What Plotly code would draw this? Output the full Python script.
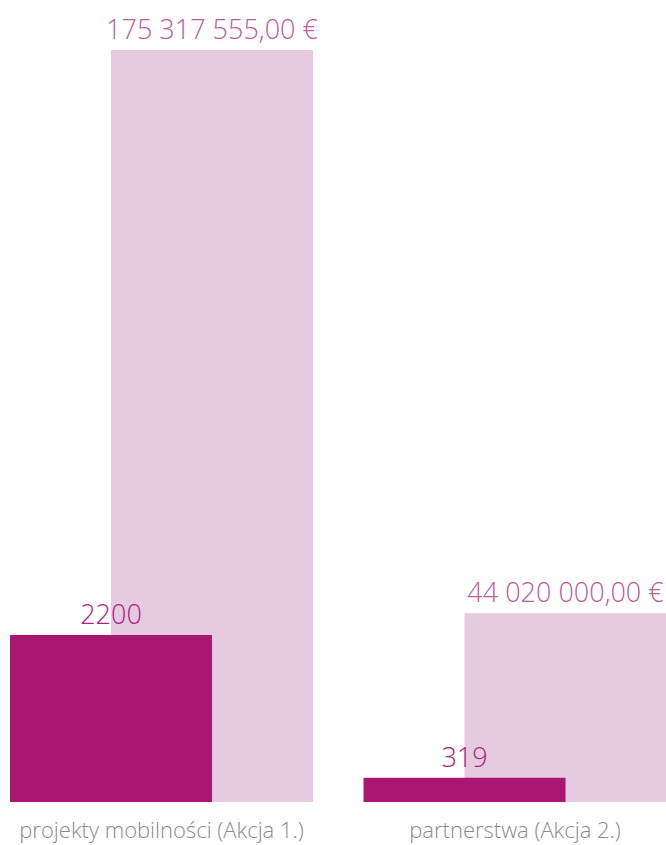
import plotly.graph_objects as go

categories = ["projekty mobilności (Akcja 1.)", "partnerstwa (Akcja 2.)"]
counts = [2200, 319]
amounts = [175317555.00, 44020000.00]

def fmt_eur(v):
    return f"{v:,.2f}".replace(",", " ").replace(".", ",") + " €"

amount_text = [fmt_eur(v) for v in amounts]
count_text = [str(v) for v in counts]

FONT = "Open Sans"

fig = go.Figure()
fig.add_trace(go.Bar(
    x=categories, y=amounts, yaxis="y",
    marker=dict(color="#e6cadf", line=dict(width=0)),
    width=0.5714, offset=-0.1429,
    text=amount_text, textposition="outside", cliponaxis=False,
    constraintext="none",
    textfont=dict(family=FONT, size=27, color="#c05a9b", weight=300),
    hoverinfo="skip", showlegend=False,
))
fig.add_trace(go.Bar(
    x=categories, y=counts, yaxis="y2",
    marker=dict(color="#aa1772", line=dict(width=0)),
    width=0.5714, offset=-0.4286,
    text=count_text, textposition="outside", cliponaxis=False,
    constraintext="none",
    textfont=dict(family=FONT, size=27, color="#ad237b", weight=300),
    hoverinfo="skip", showlegend=False,
))

fig.update_layout(
    width=666, height=845,
    margin=dict(l=10, r=0, t=50, b=43),
    paper_bgcolor="white", plot_bgcolor="white",
    barmode="overlay",
    font=dict(family=FONT, weight=300),
    xaxis=dict(
        type="category", range=[-0.4286, 1.4271],
        showgrid=False, zeroline=False, showline=False, ticks="",
        tickfont=dict(family=FONT, size=22, color="#8a8a8a", weight=300),
        ticklabelstandoff=13,
    ),
    yaxis=dict(range=[0, 175317555], visible=False, showgrid=False, zeroline=False),
    yaxis2=dict(range=[0, 9907], overlaying="y", visible=False, showgrid=False, zeroline=False),
)

fig.write_html(
    "out.html",
    config={"displayModeBar": False},
    post_script="document.body.style.margin='0';document.body.style.overflow='hidden';",
)
